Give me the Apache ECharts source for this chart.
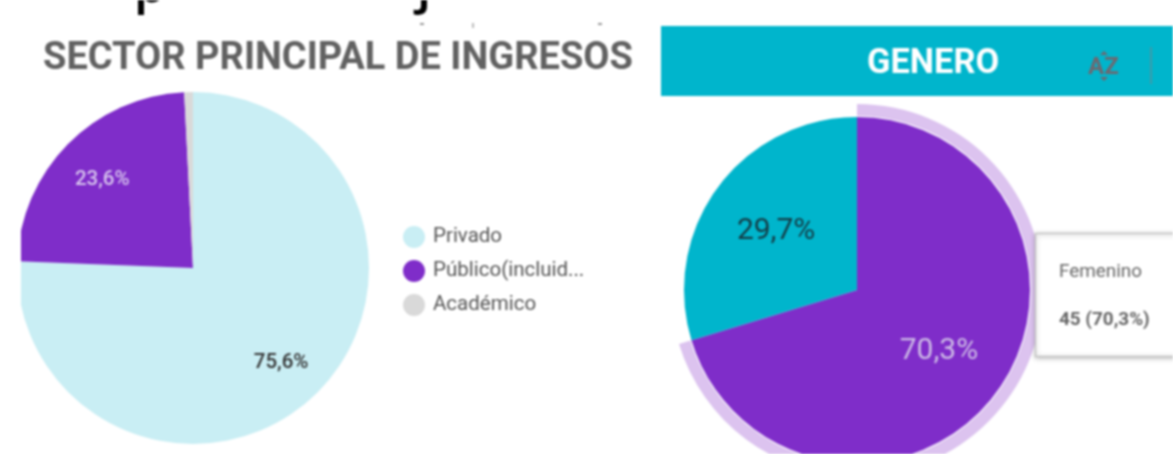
<!DOCTYPE html>
<html><head><meta charset="utf-8">
<style>html,body{margin:0;padding:0;background:#fff;overflow:hidden}#c{width:1173px;height:454px;filter:blur(.8px)}</style>
<script src="https://cdn.jsdelivr.net/npm/echarts@6/dist/echarts.min.js"></script>
</head><body><div id="c"></div>
<script>
const sectorNames = ['Privado', 'Público(incluid...', 'Académico'];
const sectorValues = [75.6, 23.6, 0.8];
const sectorColors = ['#c9eef4', '#7f2dc9', '#d9d9d9'];
const genderNames = ['Femenino', 'Masculino'];
const genderValues = [45, 19];
const genderColors = ['#7f2dc9', '#00b5cc'];
const sectorTitle = 'SECTOR PRINCIPAL DE INGRESOS';
const genderTitle = 'GENERO';
const tipName = 'Femenino';
const tipValue = '45 (70,3%)';
const croppedLine = ['e','e','e','p','e','e','e','e','e','e','j','e','e','e','e','e','e','e','e','e','e','y','g'];
const croppedX = [13,52,91,150,153,193,258,297,373,393,424,457,514,557,597,651,731,775,831,897,938,979,1010];

const pct = p => p.percent.toFixed(1).replace('.', ',') + '%';
const cropY = ch => ch === 'y' || ch === 'g' ? -2 : ch === 'e' ? 7 : 13;
const chart = echarts.init(document.getElementById('c'), null, {renderer:'canvas'});
const font = 'Roboto';
chart.setOption({
  animation:false,
  backgroundColor:'#fff',
  legend:{
    data:sectorNames, orient:'vertical', left:398, top:221, icon:'circle',
    itemWidth:22, itemHeight:22, itemGap:12, selectedMode:false,
    textStyle:{fontFamily:font, fontSize:20.5, color:'#555', padding:[0,0,0,3]}
  },
  series:[
    {type:'pie', center:[193,268], radius:[0,176], startAngle:90, clockwise:true, silent:true, percentPrecision:1, z:2,
     label:{show:true, position:'inside', formatter:pct, fontFamily:font, fontSize:20.5, fontWeight:500},
     labelLine:{show:false},
     data:sectorNames.map((n,i)=>({name:n, value:sectorValues[i], itemStyle:{color:sectorColors[i]},
       label: i==0?{color:'#333', offset:[25,29]} : i==1?{color:'#d8c6ee', offset:[-26,-24]} : {show:false}}))},
    {type:'pie', center:[857,290], radius:[174,186], startAngle:90, silent:true, label:{show:false}, labelLine:{show:false}, z:1,
     data:genderNames.map((n,i)=>({name:n+' ', value:genderValues[i], itemStyle:{color:i==0?'#dcc3ef':'rgba(0,0,0,0)'}}))},
    {type:'pie', center:[857,290], radius:[0,173], startAngle:90, silent:true, percentPrecision:1, z:2,
     label:{show:true, position:'inside', formatter:pct, fontFamily:font, fontSize:30},
     labelLine:{show:false},
     data:genderNames.map((n,i)=>({name:n, value:genderValues[i], itemStyle:{color:genderColors[i]},
       label: i==0?{color:'#cdbbe6', offset:[10,8]} : {color:'#143c46', offset:[-9,-5]}}))}
  ],
  graphic:[
    {type:'rect', z:50, shape:{x:0,y:60,width:21,height:394}, style:{fill:'#fff'}},
    {type:'text', z:50, left:43, top:40, style:{text:sectorTitle, fontFamily:font, fontWeight:'bold', fontSize:38, fill:'#616161'}},
    {type:'rect', z:50, shape:{x:661,y:26,width:512,height:70}, style:{fill:'#00b5cc'}},
    {type:'text', z:51, left:867, top:47, style:{text:genderTitle, fontFamily:font, fontWeight:'bold', fontSize:34.4, fill:'#fff'}},
    {type:'text', z:51, left:1088, top:56, style:{text:'AZ', fontFamily:font, fontWeight:'bold', fontSize:24, fill:'#6d6870'}},
    {type:'polygon', z:51, shape:{points:[[1100,55],[1108,55],[1104,51]]}, style:{fill:'#6d6870'}},
    {type:'polygon', z:51, shape:{points:[[1100,77],[1108,77],[1104,81]]}, style:{fill:'#6d6870'}},
    {type:'rect', z:51, shape:{x:1150,y:47,width:2,height:37}, style:{fill:'#3f9aa8'}},
    {type:'rect', z:60, shape:{x:1035.5,y:233.5,width:150,height:123}, style:{fill:'#fff', stroke:'#c4c4c4', lineWidth:1.5, shadowBlur:5, shadowColor:'rgba(0,0,0,.25)', shadowOffsetY:1}},
    {type:'text', z:61, left:1059, top:263, style:{text:tipName, fontFamily:font, fontSize:18.9, fill:'#666'}},
    {type:'text', z:61, left:1059, top:311, style:{text:tipValue, fontFamily:font, fontWeight:'bold', fontSize:18.9, fill:'#666'}},
    {type:'rect', z:40, shape:{x:420,y:23,width:4,height:2}, style:{fill:'#999'}},
    {type:'rect', z:40, shape:{x:472,y:23,width:2,height:5}, style:{fill:'#bbb'}},
    {type:'rect', z:40, shape:{x:598,y:23,width:4,height:2}, style:{fill:'#999'}},
    ...croppedLine.map((ch,i)=>({type:'text', z:40, x:croppedX[i], y:cropY(ch), style:{text:ch, fontFamily:'Open Sans', fontWeight:600, fontSize:52, fill:'#000', align:'center', verticalAlign:'bottom'}}))
  ]
});
</script></body></html>
